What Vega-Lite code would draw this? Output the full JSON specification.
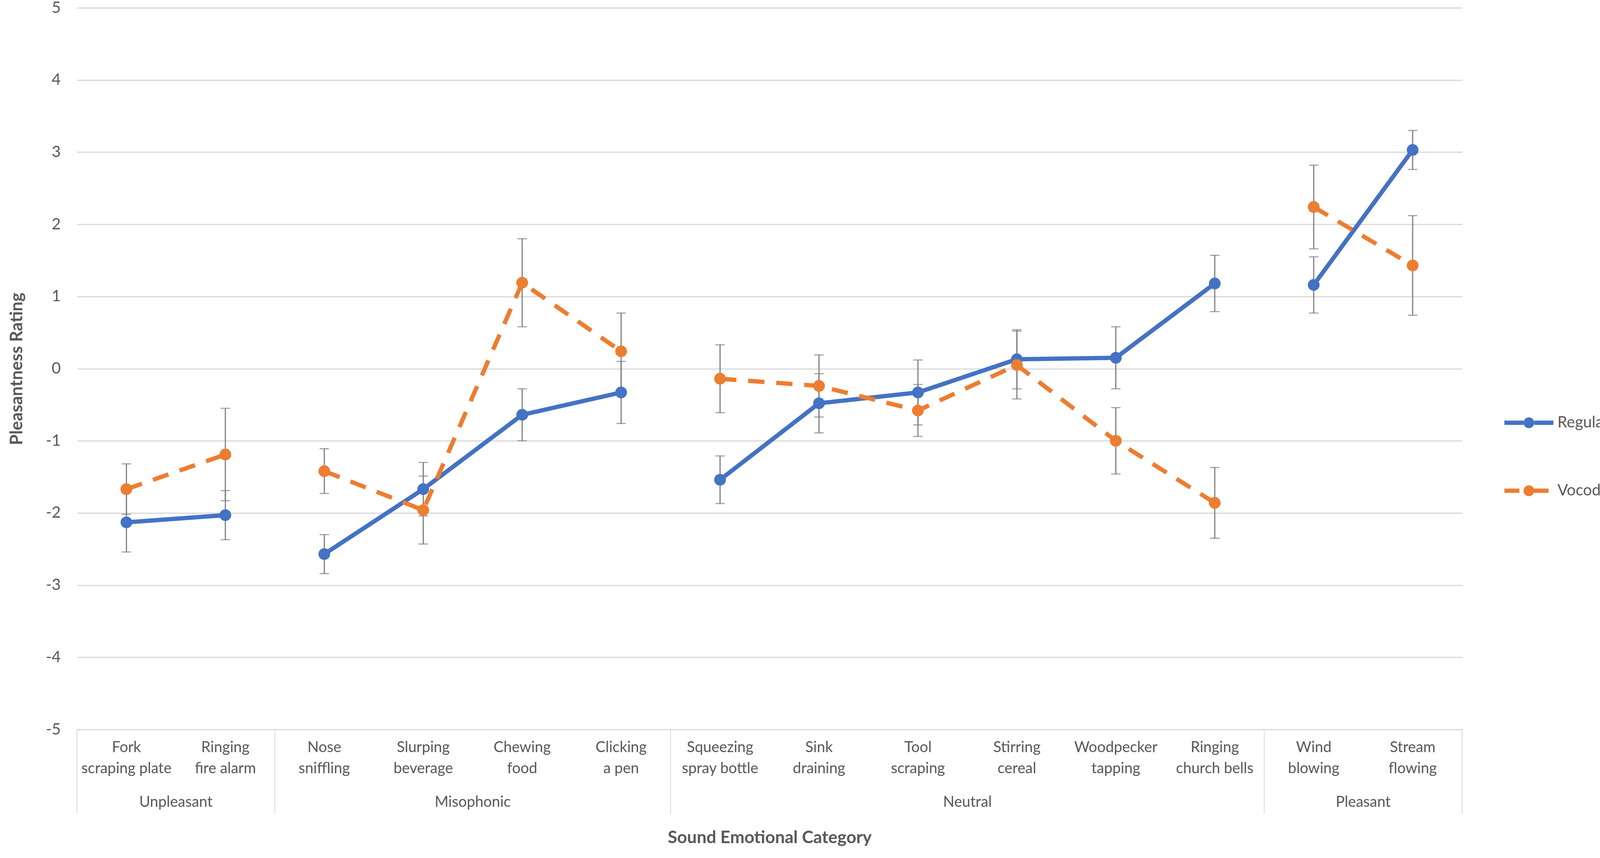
{
  "$schema": "https://vega.github.io/schema/vega-lite/v6.json",
  "autosize": "none",
  "padding": {"left": 197, "top": 20, "right": 407, "bottom": 329},
  "width": 3546,
  "height": 1847,
  "background": "white",
  "config": {
    "font": "Lato",
    "view": {"stroke": null},
    "legend": {
      "title": null,
      "orient": "none",
      "legendX": 3648,
      "legendY": 993,
      "padding": 0,
      "symbolSize": 19044,
      "rowPadding": 85,
      "labelFontSize": 40,
      "labelColor": "#595959",
      "labelOffset": 4
    }
  },
  "datasets": {
    "ratings": [
      {"sound": "Fork|scraping plate", "group": "Unpleasant", "series": "Regular", "mean": -2.13, "err": 0.41},
      {"sound": "Ringing|fire alarm", "group": "Unpleasant", "series": "Regular", "mean": -2.03, "err": 0.34},
      {"sound": "Nose|sniffling", "group": "Misophonic", "series": "Regular", "mean": -2.57, "err": 0.27},
      {"sound": "Slurping|beverage", "group": "Misophonic", "series": "Regular", "mean": -1.67, "err": 0.37},
      {"sound": "Chewing|food", "group": "Misophonic", "series": "Regular", "mean": -0.64, "err": 0.36},
      {"sound": "Clicking|a pen", "group": "Misophonic", "series": "Regular", "mean": -0.33, "err": 0.43},
      {"sound": "Squeezing|spray bottle", "group": "Neutral", "series": "Regular", "mean": -1.54, "err": 0.33},
      {"sound": "Sink|draining", "group": "Neutral", "series": "Regular", "mean": -0.48, "err": 0.41},
      {"sound": "Tool|scraping", "group": "Neutral", "series": "Regular", "mean": -0.33, "err": 0.45},
      {"sound": "Stirring|cereal", "group": "Neutral", "series": "Regular", "mean": 0.13, "err": 0.41},
      {"sound": "Woodpecker|tapping", "group": "Neutral", "series": "Regular", "mean": 0.15, "err": 0.43},
      {"sound": "Ringing|church bells", "group": "Neutral", "series": "Regular", "mean": 1.18, "err": 0.39},
      {"sound": "Wind|blowing", "group": "Pleasant", "series": "Regular", "mean": 1.16, "err": 0.39},
      {"sound": "Stream|flowing", "group": "Pleasant", "series": "Regular", "mean": 3.03, "err": 0.27},
      {"sound": "Fork|scraping plate", "group": "Unpleasant", "series": "Vocoded", "mean": -1.67, "err": 0.35},
      {"sound": "Ringing|fire alarm", "group": "Unpleasant", "series": "Vocoded", "mean": -1.19, "err": 0.64},
      {"sound": "Nose|sniffling", "group": "Misophonic", "series": "Vocoded", "mean": -1.42, "err": 0.31},
      {"sound": "Slurping|beverage", "group": "Misophonic", "series": "Vocoded", "mean": -1.96, "err": 0.47},
      {"sound": "Chewing|food", "group": "Misophonic", "series": "Vocoded", "mean": 1.19, "err": 0.61},
      {"sound": "Clicking|a pen", "group": "Misophonic", "series": "Vocoded", "mean": 0.24, "err": 0.53},
      {"sound": "Squeezing|spray bottle", "group": "Neutral", "series": "Vocoded", "mean": -0.14, "err": 0.47},
      {"sound": "Sink|draining", "group": "Neutral", "series": "Vocoded", "mean": -0.24, "err": 0.43},
      {"sound": "Tool|scraping", "group": "Neutral", "series": "Vocoded", "mean": -0.58, "err": 0.36},
      {"sound": "Stirring|cereal", "group": "Neutral", "series": "Vocoded", "mean": 0.05, "err": 0.47},
      {"sound": "Woodpecker|tapping", "group": "Neutral", "series": "Vocoded", "mean": -1.0, "err": 0.46},
      {"sound": "Ringing|church bells", "group": "Neutral", "series": "Vocoded", "mean": -1.86, "err": 0.49},
      {"sound": "Wind|blowing", "group": "Pleasant", "series": "Vocoded", "mean": 2.24, "err": 0.58},
      {"sound": "Stream|flowing", "group": "Pleasant", "series": "Vocoded", "mean": 1.43, "err": 0.69}
    ],
    "groups": [
      {"group": "Unpleasant", "first": "Fork|scraping plate", "mid": "Fork|scraping plate"},
      {"group": "Misophonic", "first": "Nose|sniffling", "mid": "Slurping|beverage"},
      {"group": "Neutral", "first": "Squeezing|spray bottle", "mid": "Tool|scraping"},
      {"group": "Pleasant", "first": "Wind|blowing", "mid": "Wind|blowing"}
    ]
  },
  "layer": [
    {
      "data": {"name": "ratings"},
      "mark": {
        "type": "errorbar",
        "color": "#808080",
        "thickness": 3,
        "ticks": {"size": 24, "thickness": 3, "color": "#808080"}
      },
      "encoding": {
        "x": {
          "field": "sound",
          "type": "nominal",
          "title": "Sound Emotional Category",
          "scale": {
            "type": "band",
            "paddingInner": 0,
            "paddingOuter": 0,
            "domain": [
              "Fork|scraping plate", "Ringing|fire alarm", "Nose|sniffling", "Slurping|beverage",
              "Chewing|food", "Clicking|a pen", "Squeezing|spray bottle", "Sink|draining",
              "Tool|scraping", "Stirring|cereal", "Woodpecker|tapping", "Ringing|church bells",
              "Wind|blowing", "Stream|flowing"
            ]
          },
          "axis": {
            "bandPosition": 0.5,
            "labelExpr": "split(datum.value, '|')",
            "labelAngle": 0,
            "labelAlign": "center",
            "labelBaseline": "top",
            "labelFontSize": 38,
            "labelLineHeight": 54,
            "labelColor": "#595959",
            "labelPadding": 27,
            "labelLimit": 500,
            "labelOverlap": false,
            "labelFlush": false,
            "ticks": false,
            "tickSize": 0,
            "domain": false,
            "grid": false,
            "titleFontSize": 44,
            "titleFontWeight": "bold",
            "titleColor": "#595959",
            "titlePadding": 136
          }
        },
        "y": {
          "field": "mean",
          "type": "quantitative",
          "title": "Pleasantness Rating",
          "scale": {"domain": [-5, 5], "nice": false, "zero": false},
          "axis": {
            "values": [-5, -4, -3, -2, -1, 0, 1, 2, 3, 4, 5],
            "labelExpr": "'' + datum.value",
            "grid": true,
            "gridColor": "#d9d9d9",
            "gridWidth": 3,
            "domain": false,
            "ticks": false,
            "tickSize": 0,
            "labelFontSize": 40,
            "labelColor": "#595959",
            "labelPadding": 42,
            "titleFontSize": 44,
            "titleFontWeight": "bold",
            "titleColor": "#595959",
            "titlePadding": 51
          }
        },
        "yError": {"field": "err"}
      }
    },
    {
      "data": {"name": "groups"},
      "mark": {"type": "rule", "color": "#d9d9d9", "strokeWidth": 2},
      "encoding": {
        "x": {"field": "first", "type": "nominal", "bandPosition": 0, "title": "Sound Emotional Category"},
        "y": {"datum": -5, "type": "quantitative", "title": "Pleasantness Rating"},
        "y2": {"datum": -6.165}
      }
    },
    {
      "data": {"values": [{"last": "Stream|flowing"}]},
      "mark": {"type": "rule", "color": "#d9d9d9", "strokeWidth": 2},
      "encoding": {
        "x": {"field": "last", "type": "nominal", "bandPosition": 1, "title": "Sound Emotional Category"},
        "y": {"datum": -5, "type": "quantitative", "title": "Pleasantness Rating"},
        "y2": {"datum": -6.165}
      }
    },
    {
      "data": {"name": "groups"},
      "mark": {"type": "text", "fontSize": 38, "color": "#595959", "baseline": "middle", "align": "center"},
      "encoding": {
        "x": {"field": "mid", "type": "nominal", "bandPosition": 1, "title": "Sound Emotional Category"},
        "y": {"datum": -6.01, "type": "quantitative", "title": "Pleasantness Rating"},
        "text": {"field": "group"}
      }
    },
    {
      "data": {"name": "ratings"},
      "mark": {"type": "line", "strokeWidth": 11},
      "encoding": {
        "x": {"field": "sound", "type": "nominal", "title": "Sound Emotional Category"},
        "y": {"field": "mean", "type": "quantitative", "title": "Pleasantness Rating"},
        "color": {
          "field": "series",
          "type": "nominal",
          "scale": {"domain": ["Regular", "Vocoded"], "range": ["#4472C4", "#ED7D31"]},
          "legend": {
            "encode": {
              "symbols": {
                "update": {
                  "shape": {"signal": "datum.value === 'Regular' ? 'M-0.91,-0.08H-0.2V0.08H-0.91Z M0.2,-0.08H0.91V0.08H0.2Z M0.2,0A0.2,0.2,0,1,1,-0.2,0A0.2,0.2,0,1,1,0.2,0Z' : 'M-0.91,-0.08H-0.355V0.08H-0.91Z M0.11,-0.08H0.73V0.08H0.11Z M0.2,0A0.2,0.2,0,1,1,-0.2,0A0.2,0.2,0,1,1,0.2,0Z'"},
                  "fill": {"signal": "datum.value === 'Regular' ? '#4472C4' : '#ED7D31'"},
                  "stroke": {"value": "transparent"},
                  "strokeWidth": {"value": 0},
                  "opacity": {"value": 1}
                }
              }
            }
          }
        },
        "strokeDash": {
          "field": "series",
          "type": "nominal",
          "scale": {"domain": ["Regular", "Vocoded"], "range": [[1, 0], [42, 30]]},
          "legend": null
        },
        "detail": {"field": "group"}
      }
    },
    {
      "data": {"name": "ratings"},
      "mark": {"type": "point", "filled": true, "size": 900, "opacity": 1},
      "encoding": {
        "x": {"field": "sound", "type": "nominal", "title": "Sound Emotional Category"},
        "y": {"field": "mean", "type": "quantitative", "title": "Pleasantness Rating"},
        "color": {
          "field": "series",
          "type": "nominal",
          "legend": {
            "encode": {
              "symbols": {
                "update": {
                  "shape": {"signal": "datum.value === 'Regular' ? 'M-0.91,-0.08H-0.2V0.08H-0.91Z M0.2,-0.08H0.91V0.08H0.2Z M0.2,0A0.2,0.2,0,1,1,-0.2,0A0.2,0.2,0,1,1,0.2,0Z' : 'M-0.91,-0.08H-0.355V0.08H-0.91Z M0.11,-0.08H0.73V0.08H0.11Z M0.2,0A0.2,0.2,0,1,1,-0.2,0A0.2,0.2,0,1,1,0.2,0Z'"},
                  "fill": {"signal": "datum.value === 'Regular' ? '#4472C4' : '#ED7D31'"},
                  "stroke": {"value": "transparent"},
                  "strokeWidth": {"value": 0},
                  "opacity": {"value": 1}
                }
              }
            }
          }
        }
      }
    }
  ]
}
